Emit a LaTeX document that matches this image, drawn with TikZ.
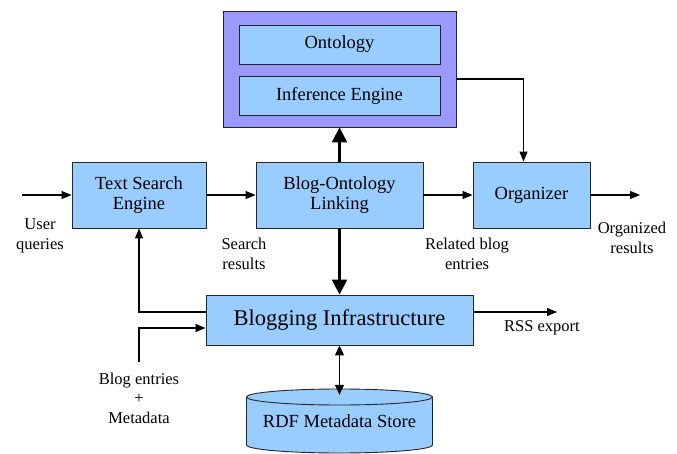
\documentclass[tikz,border=0pt]{standalone}
\usepackage{fontspec}
\setmainfont{Liberation Serif}
\usetikzlibrary{arrows.meta}
\definecolor{boxblue}{RGB}{153,204,255}
\definecolor{ontopurple}{RGB}{153,153,255}

\begin{document}
\begin{tikzpicture}[%
	x=1pt, y=-1pt,
	every node/.style = {align=center, inner sep=0pt},
	box/.style = {shape=rectangle, draw=black!85, line width=0.9pt, fill=boxblue, font=\fontsize{18.5}{20.5}\selectfont},
	outerBox/.style = {shape=rectangle, draw=black!85, line width=0.9pt, fill=ontopurple},
	note/.style = {font=\fontsize{16.5}{19.5}\selectfont},
	thinArrow/.style = {line width=1.1pt, -{Triangle[length=10pt,width=8pt]}},
	thickArrow/.style = {line width=2.4pt, -{Triangle[length=15pt,width=15pt]}},
	bothArrow/.style = {line width=1.1pt, {Triangle[length=10pt,width=9pt]}-{Triangle[length=10pt,width=9pt]}}
	]
  \useasboundingbox (0,0) rectangle (677,454);
  \node [outerBox, minimum width=233pt, minimum height=116pt] (onto) at (339.5,69) {};
  \node [box, minimum width=201pt, minimum height=39pt] (ontology) at (339.5,44.5) {Ontology};
  \node [box, minimum width=201pt, minimum height=39pt] (infer) at (339.5,95.5) {Inference Engine};
  \node [box, minimum width=134pt, minimum height=66pt] (tse) at (139,195) {Text Search\\Engine};
  \node [box, minimum width=167pt, minimum height=66pt] (bol) at (339.5,195) {Blog-Ontology\\Linking};
  \node [box, minimum width=117pt, minimum height=66pt] (org) at (531.5,195) {Organizer};
  \node [box, minimum width=267pt, minimum height=50pt, font=\fontsize{22.5}{25}\selectfont] (infra) at (339.5,320) {Blogging Infrastructure};
  \draw [draw=black!85, line width=0.9pt, fill=boxblue] (246.5,397) -- (246.5,445)
	arc [start angle=180, end angle=360, x radius=93pt, y radius=8pt] -- (432.5,397)
	arc [start angle=0, end angle=180, x radius=93pt, y radius=8pt] -- cycle;
  \draw [draw=black!85, line width=0.9pt] (246.5,397) arc [start angle=180, end angle=360, x radius=93pt, y radius=8pt];
  \node [font=\fontsize{18.5}{20.5}\selectfont, minimum width=186pt, minimum height=64pt] (rdf) at (339.5,421) {RDF Metadata Store};

  \node [note] (queries) at (40,236) {User\\queries};
  \node [note] (searchres) at (244,254) {Search\\results};
  \node [note] (related) at (467,254) {Related blog\\entries};
  \node [note] (organized) at (632,238) {Organized\\results};
  \node [note] (rssLabel) at (542,328) {RSS export};
  \node [note] (entries) at (139,398) {Blog entries\\+\\Metadata};
  \coordinate (qin) at (22,195);
  \coordinate (out) at (640,195);
  \coordinate (rss) at (557,312);

  \draw [thinArrow] (qin) -- (tse);
  \draw [thinArrow] (tse) -- (bol);
  \draw [thinArrow] (bol) -- (org);
  \draw [thinArrow] (org) -- (out);
  \draw [thickArrow] (bol) -- (onto);
  \draw [thickArrow] (bol) -- (infra);
  \draw [thinArrow] ([yshift=-10pt]onto.east) -| ([xshift=-8pt]org.north);
  \draw [thinArrow] ([yshift=8pt]infra.west) -| (tse);
  \draw [thinArrow] ([yshift=10pt]entries.north) |- ([yshift=-8pt]infra.west);
  \draw [thinArrow] ([yshift=8pt]infra.east) -- (rss);
  \draw [bothArrow] (infra) -- ([yshift=-6pt]rdf.north);
\end{tikzpicture}
\end{document}
